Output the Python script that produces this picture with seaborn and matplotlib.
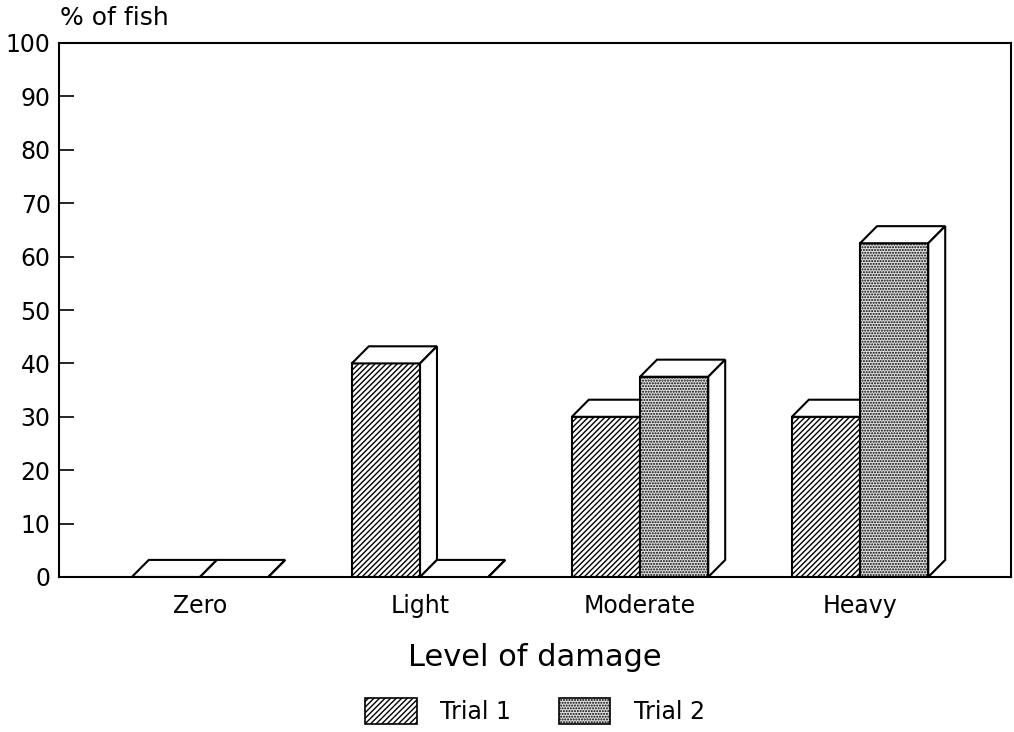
import pandas as pd
import matplotlib
matplotlib.use("Agg")
import matplotlib.pyplot as plt
import seaborn as sns
from matplotlib.patches import Polygon, Patch

# ---------------------------
# DATA
# ---------------------------
levels = ["Zero", "Light", "Moderate", "Heavy"]
trials = ["Trial 1", "Trial 2"]
trial1 = [0, 40, 30, 30]
trial2 = [0, 0, 37.5, 62.5]
y_ticks = [0, 10, 20, 30, 40, 50, 60, 70, 80, 90, 100]

df = pd.DataFrame({
    "level": levels + levels,
    "trial": [trials[0]] * len(levels) + [trials[1]] * len(levels),
    "pct": trial1 + trial2,
})

# styles
hatches = ["//////", "......"]
fills = ["white", "#e2e2e2"]
DX = 0.077   # depth of the 3D effect, x data units
DY = 3.2     # depth of the 3D effect, y data units

sns.set_style("white")
plt.rcParams["font.family"] = ["DejaVu Sans"]
plt.rcParams["hatch.linewidth"] = 1.0
plt.rcParams["text.color"] = "black"
plt.rcParams["xtick.color"] = "black"
plt.rcParams["ytick.color"] = "black"

fig = plt.figure(figsize=(10.14, 7.32), dpi=100)
ax = fig.add_axes([59 / 1014, 1 - 577 / 732, (1011 - 59) / 1014, (577 - 43) / 732])

sns.barplot(data=df, x="level", y="pct", hue="trial", order=levels,
            hue_order=trials, palette=fills, width=0.62, gap=0,
            edgecolor="black", linewidth=1.5, legend=False, ax=ax)

# ---------------------------
# 3D FACES (top + side) for every bar
# ---------------------------
n = len(levels)
for i, bar in enumerate(ax.patches[:2 * n]):
    t = i // n
    z = 2 + t
    bar.set_hatch(hatches[t])
    bar.set_zorder(z)
    x0 = bar.get_x()
    w = bar.get_width()
    h = bar.get_height()
    top = Polygon([(x0, h), (x0 + w, h), (x0 + w + DX, h + DY), (x0 + DX, h + DY)],
                  closed=True, facecolor="white", edgecolor="black", linewidth=1.5,
                  zorder=z + 0.1, joinstyle="miter")
    side = Polygon([(x0 + w, 0), (x0 + w + DX, DY), (x0 + w + DX, h + DY), (x0 + w, h)],
                   closed=True, facecolor="white", edgecolor="black", linewidth=1.5,
                   zorder=z + 0.1, joinstyle="miter")
    ax.add_patch(top)
    ax.add_patch(side)

# ---------------------------
# AXES
# ---------------------------
ax.set_xlim(-0.641, 3.686)
ax.set_ylim(0, 100)
ax.set_yticks(y_ticks)
ax.tick_params(axis="y", left=True, direction="in", length=11, width=1.2,
               labelsize=17, pad=6, colors="black")
ax.tick_params(axis="x", bottom=False, length=0, labelsize=17, pad=12, colors="black")
for sp in ax.spines.values():
    sp.set_visible(True)
    sp.set_linewidth(1.5)
    sp.set_color("black")
ax.set_ylabel("")
ax.set_xlabel("Level of damage", fontsize=22, labelpad=18, color="black")

fig.text(60 / 1014, 1 - 18 / 732, "% of fish", ha="left", va="center", fontsize=18)

handles = [Patch(facecolor=fills[k], edgecolor="black", hatch=hatches[k], linewidth=1.2)
           for k in range(2)]
fig.legend(handles, trials, loc="center", bbox_to_anchor=(535 / 1014, 1 - 711 / 732),
           ncol=2, frameon=False, fontsize=17, handlelength=2.2, handleheight=1.35,
           handletextpad=1.0, columnspacing=2.0)

fig.savefig("out.png", dpi=100)
plt.close(fig)
